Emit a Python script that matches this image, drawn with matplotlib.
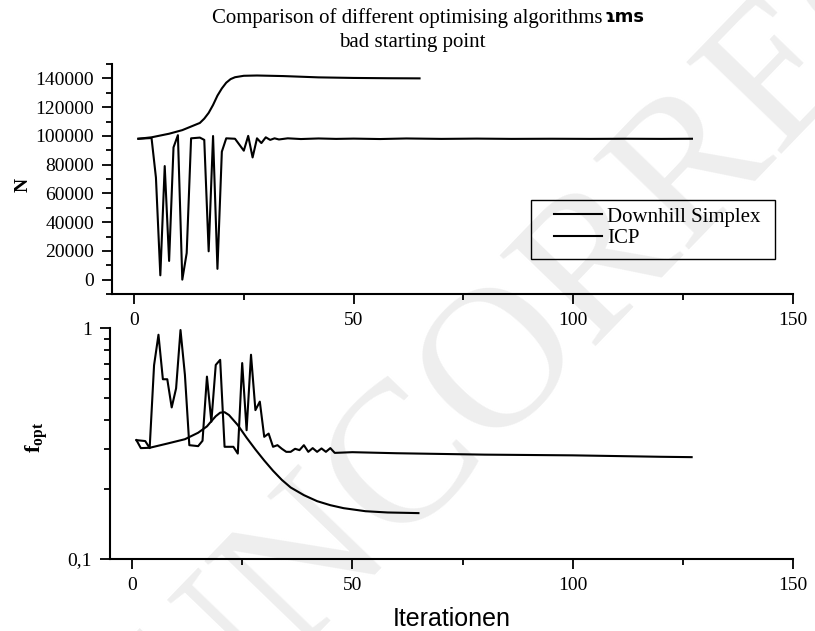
import matplotlib
matplotlib.use("Agg")
import matplotlib.pyplot as plt
from matplotlib.patches import Rectangle
from matplotlib.ticker import MultipleLocator, FixedLocator, FixedFormatter, NullFormatter

plt.rcParams['font.family'] = 'Liberation Serif'
plt.rcParams['mathtext.fontset'] = 'custom'
plt.rcParams['mathtext.rm'] = 'Liberation Serif'
plt.rcParams['mathtext.bf'] = 'Liberation Serif:bold'

# Downhill Simplex, number of points N per iteration
simplex_iter_n = [1, 4, 5, 6, 7, 8, 9, 10, 11, 12, 13, 15, 16, 17, 18, 19, 20, 21, 23, 25, 26, 27,
                  28, 29, 30, 31, 32, 33, 35, 38, 42, 46, 50, 56, 62, 70, 78, 86, 95, 104, 112, 120, 127]
simplex_n = [98000, 98500, 71000, 3000, 79000, 13000, 92000, 100500, 0, 18500, 98300, 98800, 97200,
             19700, 99900, 7500, 89000, 98300, 98000, 89700, 100000, 85000, 98300, 95000, 99000, 97200,
             98300, 97500, 98300, 97800, 98200, 97900, 98100, 97800, 98200, 97900, 98100, 97900, 98000,
             97900, 98000, 97900, 98000]

# ICP, number of points N per iteration
icp_iter_n = [1, 4, 8, 11, 15, 16, 17, 18, 19, 20, 21, 22, 23, 25, 28, 34, 42, 50, 58, 65]
icp_n = [98000, 99000, 101500, 104000, 109000, 112000, 116000, 121500, 128000, 133000, 137000,
         139500, 140800, 141800, 142000, 141600, 140700, 140300, 140100, 140000]

# Downhill Simplex, f_opt per iteration
simplex_iter_f = [1, 3, 4, 5, 6, 7, 8, 9, 10, 11, 12, 13, 15, 16, 17, 18, 19, 20, 21, 23, 24, 25, 26,
                  27, 28, 29, 30, 31, 32, 33, 34, 35, 36, 37, 38, 39, 40, 41, 42, 43, 44, 45, 46, 50,
                  60, 70, 80, 90, 100, 110, 120, 127]
simplex_f = [0.327, 0.324, 0.302, 0.69, 0.935, 0.60, 0.60, 0.453, 0.548, 0.98, 0.627, 0.311, 0.308,
             0.325, 0.616, 0.393, 0.692, 0.728, 0.306, 0.306, 0.286, 0.705, 0.361, 0.766, 0.441, 0.480,
             0.338, 0.349, 0.306, 0.311, 0.300, 0.291, 0.291, 0.300, 0.296, 0.311, 0.291, 0.302, 0.291,
             0.301, 0.291, 0.302, 0.288, 0.290, 0.287, 0.285, 0.283, 0.282, 0.281, 0.279, 0.277, 0.276]

# ICP, f_opt per iteration
icp_iter_f = [1, 2, 4, 8, 12, 15, 17, 18, 19, 20, 21, 22, 24, 26, 28, 30, 32, 34, 36, 39, 42, 45,
              48, 53, 58, 65]
icp_f = [0.327, 0.302, 0.303, 0.316, 0.330, 0.352, 0.375, 0.395, 0.415, 0.430, 0.432, 0.420, 0.380,
         0.335, 0.298, 0.267, 0.241, 0.220, 0.204, 0.189, 0.178, 0.171, 0.166, 0.161, 0.159, 0.158]

legend_labels = ["Downhill Simplex", "ICP"]
n_ticks = [0, 20000, 40000, 60000, 80000, 100000, 120000, 140000]
f_ticks = [0.1, 1]
f_tick_labels = ["0,1", "1"]
f_minor_ticks = [0.2, 0.3, 0.4, 0.5, 0.6, 0.7, 0.8, 0.9]


def style_axes(ax):
    ax.patch.set_alpha(0)
    for side in ('top', 'right'):
        ax.spines[side].set_visible(False)
    for side in ('left', 'bottom'):
        ax.spines[side].set_linewidth(1.5)
    ax.tick_params(which='major', direction='out', length=7, width=1.3, labelsize=14, pad=6)
    ax.tick_params(which='minor', direction='out', length=4, width=1.3)
    ax.set_xlim(-5, 150)
    ax.xaxis.set_major_locator(MultipleLocator(50))
    ax.xaxis.set_minor_locator(MultipleLocator(25))


fig = plt.figure(figsize=(8.15, 6.31), dpi=100)

# faint diagonal stamp behind the plots
fig.text(676 / 815, 1 - 189 / 631, "UNCORRECTED", fontsize=145, color='#eeeeee', rotation=46,
         ha='center', va='center', rotation_mode='anchor', zorder=-5)

ax1 = fig.add_axes([112 / 815, 1 - 294 / 631, 681 / 815, 230 / 631])
ax1.plot(simplex_iter_n, simplex_n, color='black', lw=1.5, label=legend_labels[0])
ax1.plot(icp_iter_n, icp_n, color='black', lw=1.5, label=legend_labels[1])
style_axes(ax1)
ax1.set_ylim(-10000, 150000)
ax1.yaxis.set_major_locator(FixedLocator(n_ticks))
ax1.yaxis.set_minor_locator(MultipleLocator(10000))
ax1.set_ylabel("N", fontsize=14, fontweight='bold')
ax1.yaxis.set_label_coords(-0.118, 0.474)

ax1.legend(loc='upper left', bbox_to_anchor=(554 / 815, 1 - 207 / 631),
           bbox_transform=fig.transFigure, borderaxespad=0, borderpad=0, fontsize=15,
           frameon=False, handlelength=2.3, handletextpad=0.24, labelspacing=0.1)
fig.patches.append(Rectangle((531 / 815, 1 - 259 / 631), 244 / 815, 59 / 631,
                             transform=fig.transFigure, fill=False, lw=1.0, ec='black'))

ax2 = fig.add_axes([110 / 815, 1 - 559 / 631, 683 / 815, 231 / 631])
ax2.plot(simplex_iter_f, simplex_f, color='black', lw=1.5)
ax2.plot(icp_iter_f, icp_f, color='black', lw=1.5)
ax2.set_yscale('log')
style_axes(ax2)
ax2.set_ylim(0.1, 1)
ax2.yaxis.set_major_locator(FixedLocator(f_ticks))
ax2.yaxis.set_major_formatter(FixedFormatter(f_tick_labels))
ax2.yaxis.set_minor_locator(FixedLocator(f_minor_ticks))
ax2.yaxis.set_minor_formatter(NullFormatter())
ax2.set_ylabel(r"$\mathbf{f}_{\mathbf{opt}}$", fontsize=16)
ax2.yaxis.set_label_coords(-0.086, 0.528)

fig.text(452 / 815, 1 - 619 / 631, "Iterationen", family='Liberation Sans', fontsize=18,
         ha='center', va='center')
fig.text(212 / 815, 1 - 18 / 631, "Comparison of different optimising algorithms", fontsize=15,
         ha='left', va='center')
fig.text(604 / 815, 1 - 17 / 631, "ɿms", family='DejaVu Sans', fontweight='bold', fontsize=13,
         ha='left', va='center')
fig.text(412 / 815, 1 - 42 / 631, "bad starting point", fontsize=15, ha='center', va='center')

fig.savefig("out.png", dpi=100)
